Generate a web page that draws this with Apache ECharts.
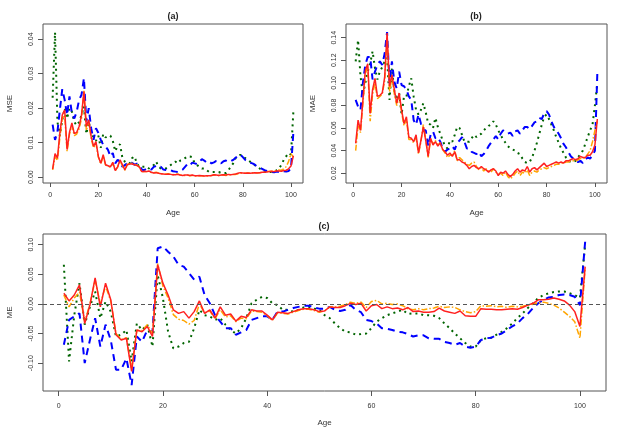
<!DOCTYPE html>
<html>
<head>
<meta charset="utf-8">
<script src="https://cdn.jsdelivr.net/npm/echarts@6/dist/echarts.min.js"></script>
<style>
  html, body { margin: 0; padding: 0; background: #fff; }
  #chart { width: 623px; height: 435px; }
</style>
</head>
<body>
<div id="chart"></div>
<script>
  // ages 1..101
  var ages = [1,2,3,4,5,6,7,8,9,10,11,12,13,14,15,16,17,18,19,20,
    21,22,23,24,25,26,27,28,29,30,31,32,33,34,35,36,37,38,39,40,
    41,42,43,44,45,46,47,48,49,50,51,52,53,54,55,56,57,58,59,60,
    61,62,63,64,65,66,67,68,69,70,71,72,73,74,75,76,77,78,79,80,
    81,82,83,84,85,86,87,88,89,90,91,92,93,94,95,96,97,98,99,100,101];

  var xTicks = [0, 20, 40, 60, 80, 100];
  var mseTicks = [0, 0.01, 0.02, 0.03, 0.04];
  var maeTicks = [0.02, 0.04, 0.06, 0.08, 0.10, 0.12, 0.14];
  var meTicks = [-0.10, -0.05, 0, 0.05, 0.10];

  // (a) MSE
  var mseRed = [0.0023,0.0068,0.0055,0.0128,0.018,0.0195,0.008,0.013,0.0157,0.0126,
    0.013,0.0147,0.018,0.0248,0.0147,0.0166,0.0118,0.0089,0.0103,0.006,
    0.004,0.0065,0.0036,0.0033,0.003,0.0043,0.0019,0.003,0.005,0.0036,
    0.0021,0.0036,0.0038,0.0038,0.0036,0.0034,0.003,0.0016,0.0017,0.0016,
    0.0018,0.0014,0.0012,0.0013,0.0011,0.001,0.0009,0.0008,0.0009,0.0008,
    0.0007,0.0007,0.0008,0.0006,0.0005,0.0006,0.0006,0.0005,0.0006,0.0004,
    0.0004,0.0005,0.0004,0.0003,0.0004,0.0004,0.0005,0.0007,0.0006,0.0005,
    0.0006,0.0007,0.0006,0.0008,0.0007,0.0008,0.0009,0.0011,0.0013,0.0012,
    0.0011,0.0012,0.0011,0.0012,0.0013,0.0012,0.0013,0.0014,0.0014,0.0015,
    0.0016,0.0017,0.0016,0.0018,0.0018,0.0017,0.0019,0.002,0.0024,0.0032,0.0062];
  var mseOrange = [0.0021,0.006,0.0048,0.0115,0.017,0.018,0.0075,0.0125,0.015,0.012,
    0.0125,0.014,0.017,0.025,0.0135,0.016,0.0112,0.0085,0.0098,0.0058,
    0.0038,0.006,0.0035,0.0032,0.0029,0.004,0.0018,0.0029,0.0046,0.0034,
    0.002,0.0037,0.004,0.004,0.0038,0.0035,0.0029,0.0015,0.0016,0.0016,
    0.0017,0.0013,0.0013,0.0014,0.0012,0.001,0.0009,0.0009,0.001,0.0008,
    0.0007,0.0008,0.0009,0.0006,0.0005,0.0005,0.0006,0.0004,0.0005,0.0003,
    0.0003,0.0004,0.0004,0.0003,0.0003,0.0004,0.0005,0.0006,0.0006,0.0005,
    0.0006,0.0006,0.0005,0.0007,0.0007,0.0008,0.0008,0.001,0.0012,0.0011,
    0.0011,0.0012,0.0012,0.0012,0.0013,0.0013,0.0013,0.0014,0.0015,0.0016,
    0.0017,0.0017,0.0018,0.0019,0.0021,0.002,0.0024,0.003,0.0045,0.0068,0.0058];
  var mseBlue = [0.0152,0.0108,0.0132,0.0195,0.0255,0.0224,0.018,0.0234,0.0185,0.017,
    0.019,0.0224,0.0239,0.0287,0.0161,0.02,0.0142,0.0108,0.0142,0.0128,
    0.0108,0.0094,0.0089,0.0079,0.006,0.007,0.004,0.005,0.0045,0.003,
    0.0035,0.004,0.0038,0.0042,0.0036,0.0039,0.0035,0.0022,0.002,0.0024,
    0.0026,0.0022,0.003,0.0032,0.0028,0.003,0.0022,0.0021,0.0018,0.002,
    0.0017,0.0016,0.0015,0.0018,0.0022,0.003,0.0038,0.0034,0.0042,0.004,
    0.0038,0.0045,0.0052,0.0048,0.0042,0.0045,0.004,0.0043,0.0047,0.0045,
    0.004,0.0046,0.0048,0.0044,0.0046,0.005,0.0056,0.0062,0.0065,0.0058,
    0.005,0.0046,0.0042,0.004,0.0036,0.003,0.0027,0.0024,0.002,0.0018,
    0.0016,0.0015,0.0014,0.0016,0.0015,0.0018,0.0017,0.0016,0.0018,0.0025,0.013];
  var mseGreen = [0.023,0.042,0.016,0.012,0.0165,0.02,0.017,0.02,0.019,0.016,
    0.015,0.016,0.018,0.0205,0.0125,0.016,0.013,0.0115,0.0105,0.012,
    0.0085,0.0125,0.0115,0.012,0.012,0.0105,0.0075,0.009,0.0095,0.0055,
    0.0045,0.004,0.004,0.0055,0.006,0.004,0.003,0.003,0.003,0.003,
    0.0025,0.003,0.0035,0.0045,0.003,0.0025,0.0025,0.0025,0.003,0.0035,
    0.004,0.0045,0.004,0.0048,0.005,0.0055,0.006,0.006,0.0058,0.004,
    0.0035,0.003,0.0025,0.0025,0.002,0.0015,0.0015,0.0015,0.0015,0.0015,
    0.0012,0.0012,0.0012,0.002,0.003,0.004,0.0055,0.006,0.0065,0.006,
    0.0055,0.005,0.0045,0.004,0.0035,0.003,0.0025,0.002,0.0015,0.0015,
    0.0015,0.0015,0.0015,0.002,0.0025,0.0035,0.005,0.006,0.007,0.0065,0.019];

  // (b) MAE
  var maeRed = [0.0465,0.067,0.058,0.085,0.111,0.117,0.073,0.094,0.104,0.088,
    0.089,0.091,0.105,0.144,0.097,0.107,0.094,0.082,0.091,0.076,
    0.064,0.07,0.052,0.051,0.048,0.054,0.038,0.049,0.061,0.049,
    0.035,0.051,0.045,0.048,0.044,0.047,0.041,0.039,0.036,0.038,
    0.035,0.039,0.032,0.032,0.03,0.029,0.027,0.024,0.026,0.027,
    0.025,0.024,0.026,0.024,0.023,0.021,0.023,0.024,0.022,0.018,
    0.021,0.02,0.022,0.019,0.017,0.019,0.022,0.024,0.021,0.023,
    0.022,0.026,0.021,0.024,0.025,0.023,0.025,0.027,0.029,0.026,
    0.027,0.028,0.029,0.03,0.029,0.03,0.029,0.031,0.031,0.032,
    0.033,0.032,0.033,0.035,0.034,0.034,0.036,0.036,0.039,0.045,0.068];
  var maeOrange = [0.040,0.062,0.056,0.082,0.108,0.114,0.066,0.09,0.1,0.086,
    0.088,0.09,0.102,0.142,0.092,0.105,0.09,0.08,0.088,0.074,
    0.062,0.068,0.05,0.05,0.047,0.052,0.037,0.048,0.063,0.05,
    0.034,0.05,0.046,0.049,0.045,0.047,0.041,0.038,0.034,0.036,
    0.036,0.04,0.031,0.034,0.032,0.03,0.028,0.027,0.029,0.03,
    0.026,0.023,0.025,0.022,0.024,0.022,0.021,0.024,0.021,0.019,
    0.02,0.018,0.021,0.017,0.015,0.017,0.02,0.022,0.018,0.021,
    0.02,0.023,0.018,0.021,0.022,0.021,0.023,0.024,0.025,0.024,
    0.025,0.026,0.027,0.028,0.028,0.029,0.029,0.03,0.03,0.031,
    0.031,0.031,0.032,0.033,0.033,0.034,0.037,0.04,0.048,0.058,0.066];
  var maeBlue = [0.085,0.079,0.076,0.1,0.116,0.123,0.123,0.103,0.11,0.116,
    0.119,0.116,0.126,0.145,0.1,0.119,0.101,0.095,0.11,0.098,
    0.097,0.094,0.088,0.085,0.067,0.063,0.072,0.064,0.058,0.058,
    0.044,0.054,0.057,0.051,0.052,0.048,0.042,0.039,0.041,0.042,
    0.044,0.041,0.047,0.049,0.052,0.048,0.042,0.042,0.039,0.038,
    0.037,0.039,0.035,0.037,0.04,0.044,0.047,0.05,0.053,0.05,
    0.055,0.058,0.056,0.055,0.056,0.053,0.057,0.058,0.055,0.058,
    0.061,0.061,0.059,0.062,0.065,0.066,0.069,0.068,0.073,0.075,
    0.072,0.066,0.061,0.058,0.055,0.051,0.046,0.043,0.039,0.035,
    0.033,0.031,0.03,0.031,0.029,0.032,0.034,0.033,0.036,0.04,0.109];
  var maeGreen = [0.119,0.138,0.106,0.089,0.1,0.11,0.117,0.128,0.113,0.103,
    0.11,0.114,0.119,0.122,0.085,0.113,0.092,0.085,0.091,0.072,
    0.088,0.088,0.097,0.104,0.088,0.076,0.072,0.076,0.082,0.074,
    0.064,0.063,0.06,0.069,0.061,0.055,0.049,0.044,0.042,0.049,
    0.048,0.054,0.061,0.06,0.054,0.048,0.048,0.048,0.051,0.054,
    0.052,0.054,0.055,0.058,0.06,0.062,0.063,0.066,0.063,0.058,
    0.054,0.05,0.047,0.044,0.042,0.041,0.04,0.038,0.037,0.033,
    0.03,0.029,0.03,0.034,0.04,0.047,0.055,0.063,0.07,0.072,
    0.068,0.063,0.058,0.052,0.047,0.042,0.038,0.034,0.031,0.03,
    0.03,0.031,0.034,0.037,0.04,0.046,0.052,0.058,0.063,0.08,0.1];

  // (c) ME
  var meRed = [0.018,0.005,0.015,0.032,-0.033,-0.002,0.044,-0.005,0.035,0.007,
    -0.052,-0.061,-0.058,-0.114,-0.044,-0.047,-0.038,-0.055,0.066,0.035,
    0.015,-0.01,-0.016,-0.013,-0.024,-0.013,0.005,-0.016,-0.01,-0.024,
    -0.005,-0.019,-0.017,-0.029,-0.021,-0.023,-0.01,-0.012,-0.012,-0.019,
    -0.027,-0.014,-0.015,-0.016,-0.013,-0.01,-0.008,-0.008,-0.01,-0.013,
    -0.012,-0.005,-0.006,-0.006,-0.003,0.001,-0.001,0.001,-0.012,-0.003,
    -0.001,-0.008,-0.005,-0.008,-0.007,-0.01,-0.006,-0.013,-0.012,-0.014,
    -0.014,-0.013,-0.007,-0.012,-0.014,-0.016,-0.012,-0.02,-0.021,-0.021,
    -0.008,-0.009,-0.009,-0.01,-0.01,-0.009,-0.008,-0.009,-0.006,-0.002,
    0.001,0.007,0.007,0.008,0.01,0.008,0.005,-0.002,-0.013,-0.038,0.063];
  var meOrange = [0.015,-0.005,0.01,0.02,-0.03,0.0,0.04,0.0,0.03,0.005,
    -0.05,-0.06,-0.057,-0.11,-0.045,-0.045,-0.035,-0.05,0.068,0.03,
    0.01,-0.018,-0.026,-0.028,-0.034,-0.028,0.0,-0.015,-0.012,-0.025,
    -0.01,-0.022,-0.02,-0.03,-0.024,-0.025,-0.012,-0.013,-0.014,-0.02,
    -0.028,-0.015,-0.016,-0.017,-0.014,-0.011,-0.009,-0.009,-0.011,-0.014,
    -0.012,-0.005,-0.005,-0.004,-0.001,0.003,0.001,0.003,-0.006,0.004,
    0.006,0.0,0.001,-0.001,0.0,-0.003,-0.008,-0.01,-0.008,-0.01,
    -0.008,-0.007,-0.004,-0.006,-0.005,-0.006,-0.01,-0.013,-0.015,-0.013,
    -0.003,-0.004,-0.003,-0.005,-0.004,-0.006,-0.004,-0.005,-0.004,-0.002,
    0.0,0.002,0.003,0.001,-0.002,-0.007,-0.014,-0.021,-0.03,-0.058,0.06];
  var meBlue = [-0.069,-0.027,-0.021,-0.016,-0.1,-0.061,-0.024,-0.072,-0.035,-0.061,
    -0.111,-0.111,-0.092,-0.137,-0.055,-0.064,-0.044,-0.047,0.094,0.097,
    0.088,0.08,0.066,0.063,0.052,0.041,0.046,0.015,0.001,-0.019,
    -0.03,-0.041,-0.041,-0.052,-0.048,-0.044,-0.027,-0.024,-0.021,-0.021,
    -0.027,-0.013,-0.013,-0.01,-0.007,-0.005,-0.003,-0.003,-0.006,-0.008,
    -0.008,-0.005,-0.01,-0.012,-0.01,-0.002,-0.01,-0.014,-0.027,-0.029,
    -0.033,-0.041,-0.042,-0.044,-0.047,-0.048,-0.051,-0.055,-0.053,-0.053,
    -0.058,-0.059,-0.059,-0.064,-0.066,-0.069,-0.066,-0.072,-0.074,-0.072,
    -0.061,-0.058,-0.057,-0.053,-0.05,-0.044,-0.038,-0.033,-0.024,-0.017,
    -0.007,0.001,0.007,0.011,0.012,0.015,0.016,0.015,0.012,-0.002,0.105];
  var meGreen = [0.066,-0.097,-0.019,0.035,-0.035,-0.005,0.021,-0.024,0.004,-0.013,
    -0.055,-0.052,-0.044,-0.097,-0.033,-0.044,-0.035,-0.072,0.049,0.01,
    -0.047,-0.075,-0.072,-0.066,-0.064,-0.041,-0.01,-0.019,-0.021,-0.027,
    -0.024,-0.035,-0.044,-0.05,-0.041,-0.024,0.001,0.007,0.012,0.01,
    0.001,-0.002,-0.01,-0.01,-0.013,-0.01,-0.006,-0.005,-0.008,-0.01,
    -0.019,-0.024,-0.033,-0.041,-0.047,-0.048,-0.052,-0.051,-0.05,-0.041,
    -0.03,-0.024,-0.019,-0.016,-0.013,-0.01,-0.017,-0.016,-0.016,-0.019,
    -0.019,-0.02,-0.024,-0.033,-0.041,-0.05,-0.058,-0.066,-0.072,-0.072,
    -0.061,-0.058,-0.057,-0.052,-0.047,-0.041,-0.033,-0.024,-0.016,-0.007,
    0.001,0.01,0.015,0.018,0.02,0.021,0.021,0.018,0.015,0.01,0.1];

  var FONT = '"Liberation Sans", Arial, sans-serif';
  var TXT = '#333';

  function pairs(vals) {
    return ages.map(function (a, i) { return [a, vals[i]]; });
  }

  function xAx(gi, gap, margin, tickLen) {
    return {
      type: 'value', gridIndex: gi, min: -3, max: 105,
      name: 'Age', nameLocation: 'middle', nameGap: gap,
      nameTextStyle: { fontFamily: FONT, fontSize: 8, color: TXT },
      axisLine: { show: false, onZero: false },
      axisTick: { show: true, inside: false, length: tickLen, customValues: xTicks, lineStyle: { color: '#555' } },
      axisLabel: { customValues: xTicks, margin: margin, fontFamily: FONT, fontSize: 7, color: TXT },
      splitLine: { show: false }
    };
  }

  function yAx(gi, name, min, max, ticks) {
    return {
      type: 'value', gridIndex: gi, min: min, max: max,
      name: name, nameLocation: 'middle', nameGap: 29,
      nameTextStyle: { fontFamily: FONT, fontSize: 8, color: TXT },
      axisLine: { show: false, onZero: false },
      axisTick: { show: true, inside: false, length: 5, customValues: ticks, lineStyle: { color: '#555' } },
      axisLabel: {
        customValues: ticks, rotate: 90, margin: 8, fontFamily: FONT, fontSize: 7, color: TXT,
        formatter: function (v) { return v.toFixed(2); }
      },
      splitLine: { show: false }
    };
  }

  var styles = {
    green: { color: '#006400', width: 2, type: [2, 4] },
    blue: { color: '#0000ff', width: 2, type: [7, 5] },
    orange: { color: '#ffa500', width: 1.5, type: [6, 2, 1.5, 2] },
    red: { color: '#ff2020', width: 1.5, type: 'solid' }
  };

  function line(gi, key, vals, extra) {
    var s = {
      type: 'line', xAxisIndex: gi, yAxisIndex: gi,
      data: pairs(vals), showSymbol: false, symbol: 'none',
      lineStyle: styles[key], itemStyle: { color: styles[key].color },
      silent: true, z: 2
    };
    if (extra) { for (var k in extra) s[k] = extra[k]; }
    return s;
  }

  var option = {
    backgroundColor: '#fff',
    animation: false,
    title: [
      { text: '(a)', left: 173, top: 12, textAlign: 'center', padding: 0,
        textStyle: { fontFamily: FONT, fontSize: 9, fontWeight: 'bold', color: '#222' } },
      { text: '(b)', left: 476, top: 12, textAlign: 'center', padding: 0,
        textStyle: { fontFamily: FONT, fontSize: 9, fontWeight: 'bold', color: '#222' } },
      { text: '(c)', left: 324, top: 222, textAlign: 'center', padding: 0,
        textStyle: { fontFamily: FONT, fontSize: 9, fontWeight: 'bold', color: '#222' } }
    ],
    grid: [
      { left: 43, top: 24, width: 260, height: 159, show: true, borderColor: '#555', borderWidth: 1, containLabel: false, outerBoundsMode: 'none' },
      { left: 346, top: 24, width: 261, height: 159, show: true, borderColor: '#555', borderWidth: 1, containLabel: false, outerBoundsMode: 'none' },
      { left: 43, top: 234, width: 563, height: 157, show: true, borderColor: '#555', borderWidth: 1, containLabel: false, outerBoundsMode: 'none' }
    ],
    xAxis: [xAx(0, 26, 9, 4), xAx(1, 26, 9, 4), xAx(2, 28, 12, 5)],
    yAxis: [
      yAx(0, 'MSE', -0.0017, 0.0444, mseTicks),
      yAx(1, 'MAE', 0.0114, 0.1521, maeTicks),
      yAx(2, 'ME', -0.147, 0.118, meTicks)
    ],
    series: [
      line(0, 'green', mseGreen), line(0, 'blue', mseBlue), line(0, 'orange', mseOrange), line(0, 'red', mseRed),
      line(1, 'green', maeGreen), line(1, 'blue', maeBlue), line(1, 'orange', maeOrange), line(1, 'red', maeRed),
      line(2, 'green', meGreen), line(2, 'blue', meBlue), line(2, 'orange', meOrange),
      line(2, 'red', meRed, {
        markLine: {
          silent: true, symbol: 'none', label: { show: false }, animation: false,
          lineStyle: { color: '#555', type: [4, 3], width: 1 },
          data: [{ yAxis: 0 }]
        }
      })
    ]
  };

  var chart = echarts.init(document.getElementById('chart'), null, { renderer: 'canvas' });
  chart.setOption(option);
</script>
</body>
</html>
